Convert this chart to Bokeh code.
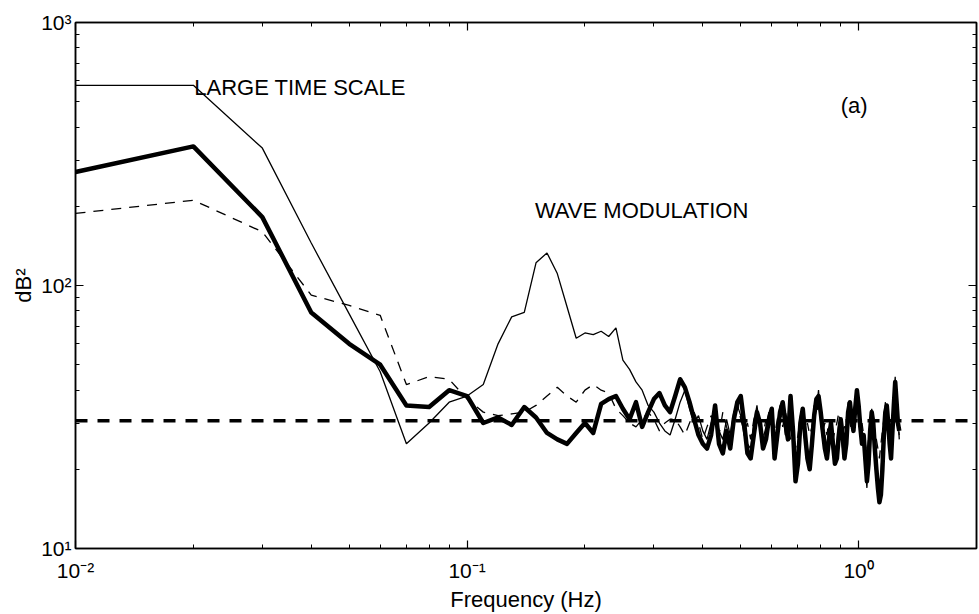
from bokeh.plotting import figure
from bokeh.models import (ColumnDataSource, Span, Label, LogAxis, FixedTicker,
                          CustomJSTickFormatter)
from bokeh.embed import file_html
from bokeh.resources import INLINE

# ---------------- data ----------------
freq = [round(0.01 * k, 2) for k in range(1, 128)]  # 0.01 ... 1.27 Hz

thick_psd = [
    270, 338, 182, 79, 60, 50, 35, 34.5, 40, 38,
    30, 31.5, 29.5, 34.5, 31.5, 27.5, 26, 25, 27.5, 30,
    27.5, 35.5, 37, 38, 34, 31, 36, 29, 33, 37,
    39, 35, 33, 38, 44, 41, 36, 31, 27, 25,
    24, 27, 35, 25, 23, 28, 24, 31, 36, 38,
    30, 23, 22, 27, 33, 30, 24, 26, 31, 34,
    22, 27, 33, 36, 30, 26, 38, 28, 18, 21,
    30, 34, 27, 22, 20, 25, 32, 37, 38, 33,
    28, 24, 22, 26, 30, 25, 21, 22, 27, 31,
    27, 22, 25, 33, 36, 31, 28, 34, 40, 35,
    29, 25, 27, 22, 18, 21, 28, 33, 30, 24,
    20, 17, 15, 16, 20, 27, 33, 35, 30, 25,
    22, 28, 35, 43, 36, 30, 28,
]

thin_psd = [
    577, 577, 333, 145, 78, 47, 25, 30, 36, 38,
    42, 60, 76, 79, 122, 133, 111, 83, 63, 66,
    65, 67, 64, 69, 52, 48, 43, 40, 35, 33,
    30, 28, 27, 31, 36, 40, 34, 30, 32, 28,
    26, 30, 33, 28, 26, 31, 27, 33, 35, 32,
    27, 25, 24, 30, 35, 28, 26, 29, 33, 30,
    24, 29, 35, 33, 27, 31, 35, 25, 20, 24,
    32, 31, 25, 24, 22, 28, 35, 34, 40, 30,
    26, 27, 24, 29, 27, 23, 24, 25, 30, 28,
    24, 25, 28, 36, 33, 29, 31, 37, 36, 32,
    27, 28, 24, 20, 17, 24, 31, 30, 27, 22,
    22, 19, 17, 19, 24, 30, 36, 32, 27, 28,
    25, 32, 38, 45, 33, 32, 26,
]

dashed_psd = [
    188, 211, 160, 92, 84, 77, 42, 45, 44, 37,
    33, 32, 32.5, 33, 35, 38, 41, 38, 36, 40,
    42, 40, 39, 34, 32, 30, 29, 31, 33, 31,
    28, 30, 31, 31, 29, 27, 30, 33, 30, 26,
    29, 32, 30, 27, 33, 29, 26, 30, 36, 31,
    28, 30, 26, 31, 34, 29, 27, 31, 29, 32,
    27, 31, 34, 29, 33, 30, 26, 29, 24, 27,
    31, 28, 26, 30, 27, 29, 34, 32, 36, 31,
    28, 30, 27, 31, 29, 26, 28, 30, 33, 29,
    27, 29, 31, 34, 30, 28, 32, 35, 33, 30,
    28, 30, 27, 25, 23, 26, 30, 34, 31, 28,
    26, 24, 22, 25, 28, 31, 34, 32, 29, 30,
    27, 30, 33, 38, 31, 29, 27,
]

confidence_level = 30.6

x_major = [0.01, 0.1, 1.0]
x_minor = [0.02, 0.03, 0.04, 0.05, 0.06, 0.07, 0.08, 0.09,
           0.2, 0.3, 0.4, 0.5, 0.6, 0.7, 0.8, 0.9, 2.0]
y_major = [10, 100, 1000]
y_minor = [20, 30, 40, 50, 60, 70, 80, 90, 200, 300, 400, 500, 600, 700, 800, 900]

FONT = "Liberation Sans"

# ---------------- figure ----------------
p = figure(width=979, height=614, x_axis_type="log", y_axis_type="log",
           x_range=(0.01, 2.0), y_range=(10, 1000),
           output_backend="svg", toolbar_location=None,
           min_border_left=75, min_border_right=3,
           min_border_top=22, min_border_bottom=65)
p.background_fill_color = "white"
p.border_fill_color = "white"
p.outline_line_color = "black"
p.outline_line_width = 1.5
p.xgrid.grid_line_color = None
p.ygrid.grid_line_color = None

src = ColumnDataSource(dict(f=freq, thick=thick_psd, thin=thin_psd, dash=dashed_psd))

p.add_layout(Span(location=confidence_level, dimension="width", line_color="black",
                  line_width=3.5, line_dash="12 10"))
p.line("f", "dash", source=src, line_color="black", line_width=1.3, line_dash="10 8")
p.line("f", "thin", source=src, line_color="black", line_width=1.3)
p.line("f", "thick", source=src, line_color="black", line_width=4.5, line_join="round")

sup_js = """
const sup = {'-':'\u207b','0':'\u2070','1':'\u00b9','2':'\u00b2','3':'\u00b3','4':'\u2074',
             '5':'\u2075','6':'\u2076','7':'\u2077','8':'\u2078','9':'\u2079'};
const e = Math.round(Math.log10(tick));
return '10' + String(e).split('').map(c => sup[c]).join('');
"""

xt = FixedTicker(ticks=x_major, minor_ticks=x_minor)
yt = FixedTicker(ticks=y_major, minor_ticks=y_minor)

def style(ax, labels=True):
    ax.axis_line_color = "black"
    ax.axis_line_width = 1.5
    ax.major_tick_in = 8
    ax.major_tick_out = 0
    ax.minor_tick_in = 4
    ax.minor_tick_out = 0
    ax.major_tick_line_color = "black"
    ax.minor_tick_line_color = "black"
    ax.major_tick_line_width = 1.2
    ax.minor_tick_line_width = 1.0
    if labels:
        ax.formatter = CustomJSTickFormatter(code=sup_js)
        ax.major_label_text_font = FONT
        ax.major_label_text_font_size = "21px"
        ax.major_label_text_color = "black"
        ax.axis_label_text_font = FONT
        ax.axis_label_text_font_size = "22px"
        ax.axis_label_text_font_style = "normal"
        ax.axis_label_text_color = "black"
    else:
        ax.major_label_text_font_size = "1px"
        ax.major_label_text_color = None
        ax.major_label_standoff = 0

xa = p.xaxis[0]
xa.ticker = xt
style(xa)
xa.axis_label = "Frequency (Hz)"
xa.major_label_standoff = 10
xa.axis_label_standoff = 2

ya = p.yaxis[0]
ya.ticker = yt
style(ya)
ya.axis_label = "dB\u00b2"
ya.major_label_standoff = 4
ya.axis_label_standoff = 2

top_ax = LogAxis(ticker=FixedTicker(ticks=x_major, minor_ticks=x_minor))
style(top_ax, labels=False)
p.add_layout(top_ax, "above")
right_ax = LogAxis(ticker=FixedTicker(ticks=y_major, minor_ticks=y_minor))
style(right_ax, labels=False)
p.add_layout(right_ax, "right")

for txt, x, y in [("LARGE TIME SCALE", 0.0201, 566),
                  ("WAVE MODULATION", 0.149, 192),
                  ("(a)", 0.90, 484)]:
    p.add_layout(Label(x=x, y=y, text=txt, text_font=FONT, text_font_size="22px",
                       text_color="black", text_baseline="alphabetic", text_align="left"))

open("out.html", "w").write(file_html(p, INLINE))
